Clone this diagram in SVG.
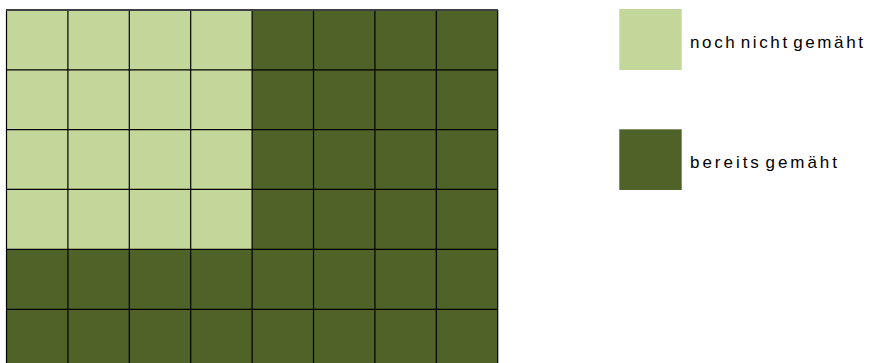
<svg xmlns="http://www.w3.org/2000/svg" width="875" height="363" viewBox="0 0 875 363">
<style>
.l{fill:#C4D79B}
.d{fill:#4F6228}
.g{stroke:#000;stroke-width:1.2;fill:none}
text{font-family:"Liberation Sans",Arial,sans-serif;font-size:17px;fill:#000;word-spacing:-4px}
</style>
<rect width="875" height="363" fill="#fff"/>
<g id="grid">
<rect class="d" x="6.5" y="10" width="491.2" height="360"/>
<rect class="l" x="6.5" y="10" width="245.6" height="239.3"/>
<g class="g">
<path d="M6.5 10V370M67.9 10V370M129.3 10V370M190.7 10V370M252.1 10V370M313.5 10V370M374.9 10V370M436.3 10V370M497.7 10V370"/>
<path d="M6.5 69.8H497.7M6.5 129.6H497.7M6.5 189.4H497.7M6.5 249.3H497.7M6.5 309.3H497.7"/>
<path d="M6 10H498" stroke="#404040" stroke-width="2"/>
</g>
</g>
<g id="legend-light">
<rect class="l" x="619.3" y="9" width="62.4" height="61"/>
<text x="690" y="48" textLength="173" lengthAdjust="spacing">noch nicht gemäht</text>
</g>
<g id="legend-dark">
<rect class="d" x="619.3" y="129.3" width="62.4" height="60.7"/>
<text x="690" y="167.5" textLength="147" lengthAdjust="spacing">bereits gemäht</text>
</g>
</svg>
